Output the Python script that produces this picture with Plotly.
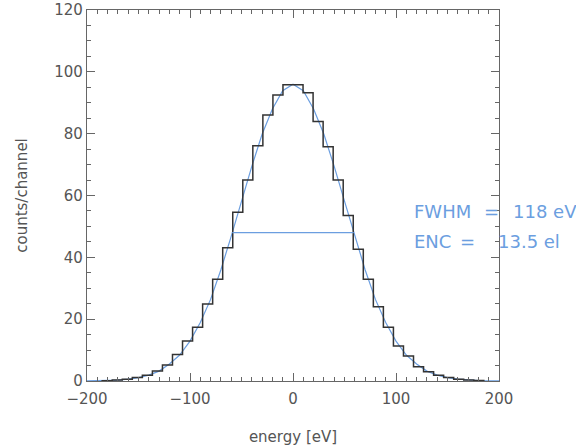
import plotly.graph_objects as go

# ---- data ----
BIN_WIDTH = 9.75          # eV per channel
FIRST_BIN_INDEX = -19     # left edge = index * BIN_WIDTH
counts = [0.1, 0.3, 0.55, 1.1, 1.9, 3.2, 5.2, 8.6, 12.9, 17.4,
          24.9, 32.9, 43.1, 54.6, 65.0, 76.1, 86.0, 92.5, 95.8, 95.8,
          93.2, 83.9, 75.8, 65.0, 53.5, 42.6, 32.9, 24.0, 17.4, 11.3,
          8.1, 4.6, 3.0, 1.9, 1.1, 0.6, 0.3, 0.15]

fit_energy = [-200, -190, -180, -170, -160, -150, -140, -130, -120, -110,
              -100, -90, -80, -70, -60, -50, -40, -30, -20, -10, 0,
              10, 20, 30, 40, 50, 60, 70, 80, 90, 100,
              110, 120, 130, 140, 150, 160, 170, 180, 190, 200]
fit_counts = [0.03, 0.07, 0.15, 0.3, 0.6, 1.1, 1.9, 3.2, 5.5, 8.4,
              12.9, 18.9, 26.4, 36.0, 46.8, 58.2, 69.4, 79.8, 88.0, 93.9, 96.0,
              93.9, 88.0, 79.8, 69.4, 58.2, 46.8, 36.0, 26.4, 18.9, 12.9,
              8.4, 5.5, 3.2, 1.9, 1.1, 0.6, 0.3, 0.15, 0.07, 0.03]

fwhm_x = [-59, 59]
fwhm_y = [48, 48]

fwhm_label = ["FWHM", "=", "118 eV"]
enc_label = ["ENC", "=", "13.5 el"]

# ---- build ----
edges = [(FIRST_BIN_INDEX + i) * BIN_WIDTH for i in range(len(counts) + 1)]
hist_x = [edges[0]] + edges + [edges[-1]]
hist_y = [0] + counts + [counts[-1], 0]

blue = "#6b9ee0"
axis_col = "#666666"
text_col = "#555555"
font_family = "DejaVu Sans, Liberation Sans, Arial, sans-serif"

fig = go.Figure()
fig.add_trace(go.Scatter(x=fit_energy, y=fit_counts, mode="lines",
                         line=dict(color=blue, width=1.2), hoverinfo="skip"))
fig.add_trace(go.Scatter(x=hist_x, y=hist_y, mode="lines", line_shape="hv",
                         line=dict(color="#333333", width=1.5), hoverinfo="skip"))
fig.add_trace(go.Scatter(x=fwhm_x, y=fwhm_y, mode="lines",
                         line=dict(color=blue, width=1.2), hoverinfo="skip"))

axis_common = dict(showgrid=False, zeroline=False, showline=True, linecolor=axis_col,
                   linewidth=1.3, mirror="allticks", ticks="inside", ticklen=8,
                   tickwidth=1.2, tickcolor=axis_col, automargin=False,
                   tickfont=dict(family=font_family, size=15, color=text_col))

fig.update_layout(
    width=576, height=448,
    margin=dict(l=87, r=77, t=10, b=67),
    paper_bgcolor="white", plot_bgcolor="white",
    showlegend=False,
    font=dict(family=font_family, color=text_col),
    xaxis=dict(range=[-200, 200], dtick=100, tick0=0, ticklabelstandoff=4,
               minor=dict(dtick=10, ticklen=4, ticks="inside", tickcolor=axis_col),
               title=dict(text="energy [eV]", font=dict(size=15, color=text_col), standoff=24),
               **axis_common),
    yaxis=dict(range=[0, 120], dtick=20, tick0=0,
               minor=dict(dtick=5, ticklen=4, ticks="inside", tickcolor=axis_col),
               title=dict(text="counts/channel", font=dict(size=15, color=text_col), standoff=22),
               **axis_common),
)

def px_to_paper_x(px):
    return (px - 87) / 412.0

def py_to_paper_y(py):
    return (381 - py) / 371.0

for parts, xs, py in [(fwhm_label, [414, 484, 513], 212), (enc_label, [414, 460, 498], 241.5)]:
    for t, px in zip(parts, xs):
        fig.add_annotation(xref="paper", yref="paper", x=px_to_paper_x(px), y=py_to_paper_y(py),
                           text=t, showarrow=False, xanchor="left", yanchor="middle",
                           xshift=-2,
                           font=dict(family=font_family, size=18, color=blue))

fig.write_html("out.html")
